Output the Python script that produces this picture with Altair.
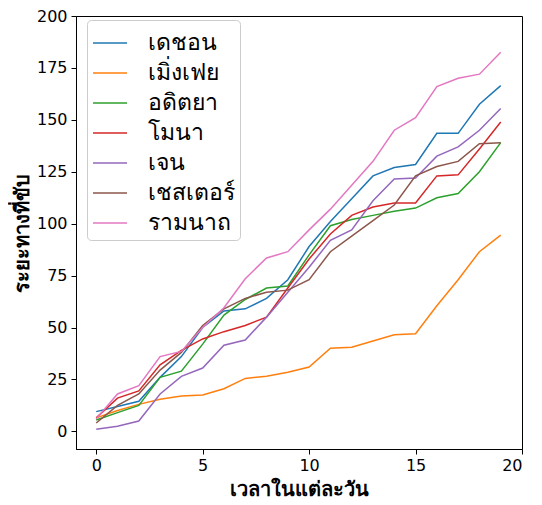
import altair as alt
import pandas as pd

names = ["เดชอน", "เมิ่งเฟย", "อดิตยา", "โมนา", "เจน", "เชสเตอร์", "รามนาถ"]
colors = ["#1f77b4", "#ff7f0e", "#2ca02c", "#d62728", "#9467bd", "#8c564b", "#e377c2"]
hours = list(range(20))

dechon = [9.5, 12, 14.5, 26, 36, 50, 58, 59, 64, 73, 89, 101, 112, 123, 127, 128.5, 143.5, 143.5, 157.5, 166.5]
mengfei = [6.5, 10, 13, 15.5, 17, 17.5, 20.5, 25.5, 26.5, 28.5, 31, 40, 40.5, 43.5, 46.5, 47, 60.5, 73, 86.5, 94.5]
aditya = [5.5, 9, 12.5, 26, 29, 42, 56, 63.5, 69, 70, 85, 99, 102, 104, 106, 107.5, 112.5, 114.5, 125, 139]
mona = [6.5, 16, 19.5, 32, 39, 44.5, 48, 51, 55, 69, 83, 95, 104, 108, 110, 110, 123, 123.5, 136, 149]
jane = [1, 2.5, 5, 18, 26.5, 30.5, 41.5, 44, 55, 67, 79, 92, 97, 111, 121.5, 122, 132.5, 137, 145, 155.5]
chester = [4, 12.5, 18, 29.5, 38, 51, 59, 64, 67, 68, 73, 86.5, 94, 101.5, 109, 123, 127.5, 130, 138.5, 139]
ramnath = [6, 18, 22, 36, 38.5, 50, 59.5, 73.5, 83.5, 86.5, 97, 107, 118.5, 130, 145, 151, 166, 170, 172, 182.5]

series = [dechon, mengfei, aditya, mona, jane, chester, ramnath]
rows = []
for n, vals in zip(names, series):
    for h, v in zip(hours, vals):
        rows.append({"hour": h, "dist": v, "name": n})
df = pd.DataFrame(rows)

font_num = "DejaVu Sans"
font_thai = "Noto Sans, DejaVu Sans, sans-serif"

chart = alt.Chart(df).mark_line(strokeWidth=1.5).encode(
    x=alt.X("hour:Q", title="เวลาในแต่ละวัน",
            scale=alt.Scale(domain=[-0.95, 20], nice=False, zero=False),
            axis=alt.Axis(values=[0, 5, 10, 15, 20], grid=False, labelFont=font_num,
                          labelFontSize=16, labelColor="#000", tickSize=5, tickColor="#000",
                          domainColor="#000", labelPadding=3, titleFont=font_thai,
                          titleFontSize=20, titleFontWeight="bold", titleColor="#000", titlePadding=6)),
    y=alt.Y("dist:Q", title="ระยะทางที่ขับ",
            scale=alt.Scale(domain=[-8.5, 200], nice=False, zero=False),
            axis=alt.Axis(values=[0, 25, 50, 75, 100, 125, 150, 175, 200], grid=False,
                          labelFont=font_num, labelFontSize=16, labelColor="#000", tickSize=5,
                          tickColor="#000", domainColor="#000", labelPadding=4,
                          titleFont=font_thai, titleFontSize=20, titleFontWeight="bold",
                          titleColor="#000", titlePadding=4)),
    color=alt.Color("name:N", sort=names,
                    scale=alt.Scale(domain=names, range=colors),
                    legend=alt.Legend(title=None, orient="none", legendX=11, legendY=4,
                                      fillColor="white", strokeColor="#cccccc", cornerRadius=4,
                                      padding=5, labelFont=font_thai, labelFontSize=23,
                                      labelColor="#000", symbolType="stroke",
                                      symbolStrokeWidth=1.5, symbolSize=1156, labelOffset=20,
                                      rowPadding=-2)),
).properties(
    width=446, height=433,
    autosize=alt.AutoSizeParams(type="none"),
    padding={"left": 68, "top": 8, "right": 12, "bottom": 55},
).configure_view(stroke="#000", strokeWidth=1)

chart.save("out.html", embed_options={"renderer": "svg", "actions": False})
